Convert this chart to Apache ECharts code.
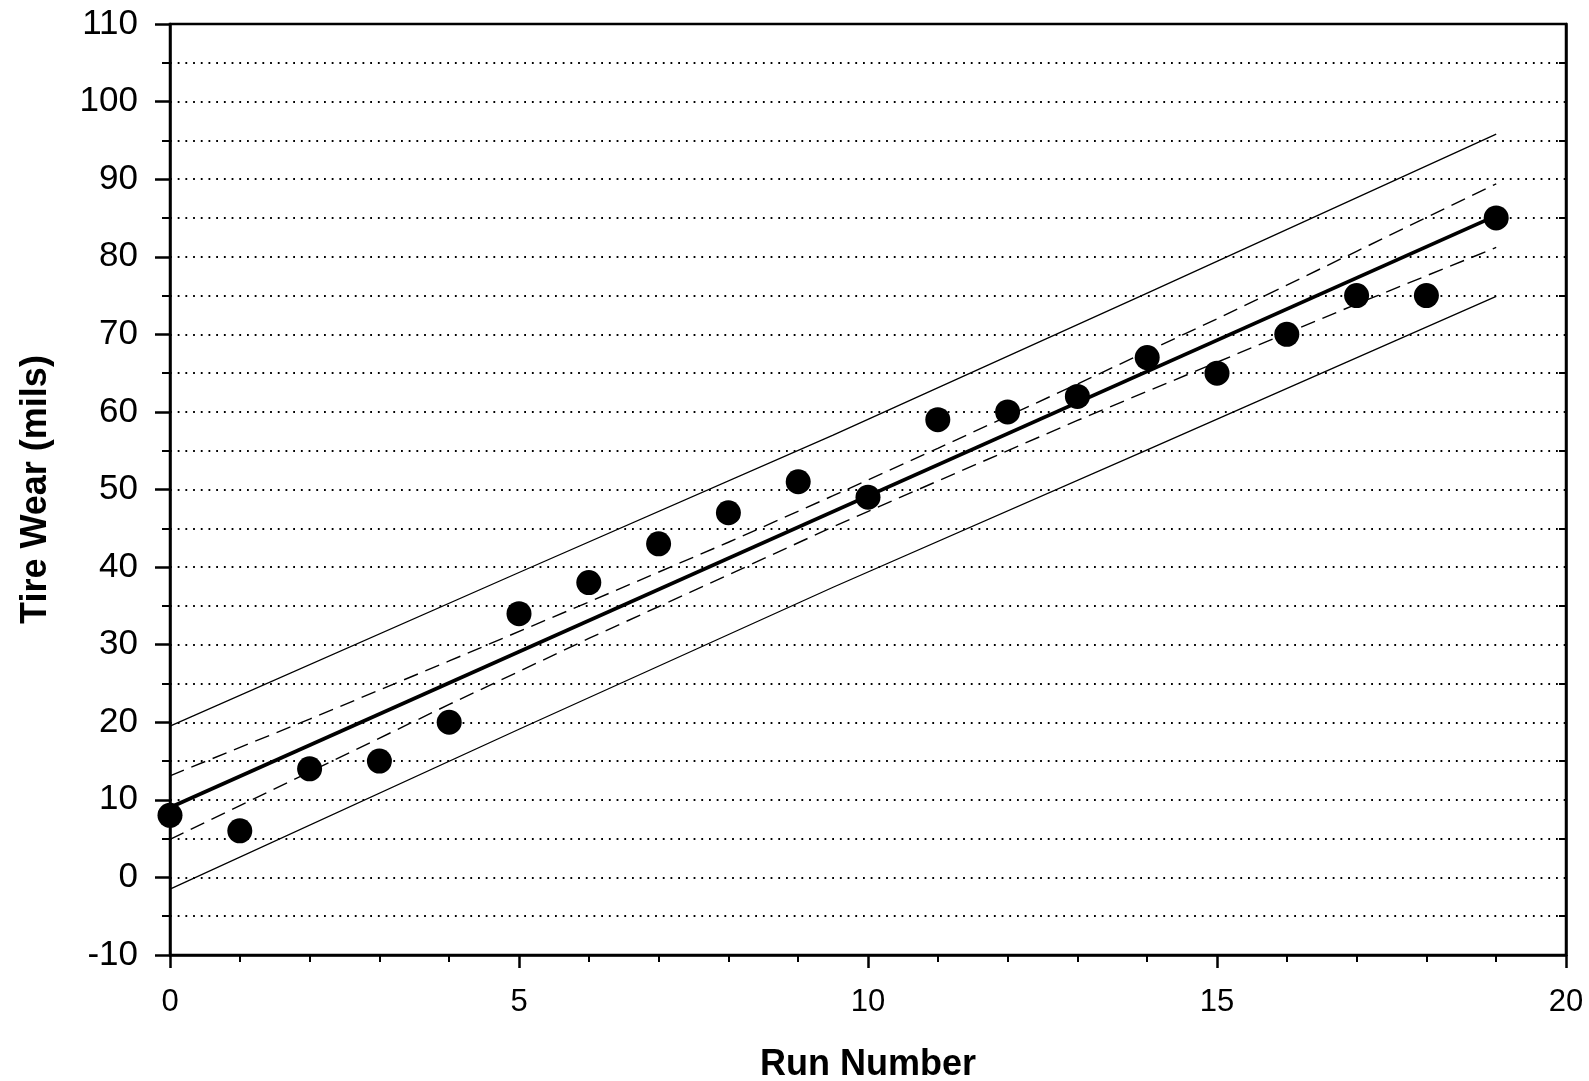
<!DOCTYPE html>
<html>
<head>
<meta charset="utf-8">
<script src="https://cdn.jsdelivr.net/npm/echarts@6/dist/echarts.min.js"></script>
<style>
  html, body { margin: 0; padding: 0; background: #fff; }
  #chart { width: 1589px; height: 1081px; }
</style>
</head>
<body>
<div id="chart"></div>
<script>
// Measured tire wear for each run
const runs = [0, 1, 2, 3, 4, 5, 6, 7, 8, 9, 10, 11, 12, 13, 14, 15, 16, 17, 18, 19];
const wear = [8, 6, 14, 15, 20, 34, 38, 43, 47, 51, 49, 59, 60, 62, 67, 65, 70, 75, 75, 85];

// Fitted line (end points)
const fitX = [0, 19];
const fitY = [9.0, 85.3];

// Confidence band (dashed), read at a few run numbers
const confX = [0, 2, 4, 6, 8, 9.5, 11, 13, 15, 17, 19];
const confUpper = [13.1, 20.4, 27.9, 35.5, 43.2, 49.2, 55.3, 63.6, 72.0, 80.7, 89.4];
const confLower = [4.9, 13.6, 22.3, 30.8, 39.0, 45.2, 51.1, 58.9, 66.4, 73.9, 81.2];

// Prediction band (thin solid)
const predX = [0, 5, 9.5, 14, 19];
const predUpper = [19.5, 39.3, 57.0, 75.3, 95.8];
const predLower = [-1.5, 19.1, 37.4, 55.1, 74.9];

const font = "'Liberation Sans', Arial, sans-serif";

// pairs two lists into [x, y] points
function pairs(xs, ys) {
    return xs.map((x, i) => [x, ys[i]]);
}

function lineSeries(xs, ys, style) {
    return {
        type: 'line',
        data: pairs(xs, ys),
        symbol: 'none',
        silent: true,
        lineStyle: style,
        z: 3
    };
}

const dotted = { color: '#000', width: 1.8, type: [1.8, 5.9] };

const chart = echarts.init(document.getElementById('chart'));

let options = {
    animation: false,
    backgroundColor: '#fff',
    grid: {
        left: 170, right: 23, top: 24, bottom: 126,
        containLabel: false,
        outerBoundsMode: 'none',
        show: true, borderColor: '#000', borderWidth: 2.5
    },
    xAxis: {
        type: 'value',
        min: 0, max: 20, interval: 5,
        name: 'Run Number',
        nameLocation: 'middle',
        nameGap: 92,
        nameTextStyle: { fontFamily: font, fontSize: 36, fontWeight: 'bold', color: '#000' },
        axisLine: { show: true, onZero: false, lineStyle: { color: '#000', width: 2.5 } },
        axisTick: { show: true, length: 13, lineStyle: { color: '#000', width: 2.5 } },
        minorTick: { show: true, splitNumber: 5, length: 7, lineStyle: { color: '#000', width: 2 } },
        axisLabel: { fontFamily: font, fontSize: 31, color: '#000', margin: 32 },
        splitLine: { show: false }
    },
    yAxis: [
        {
            type: 'value',
            min: -10, max: 110, interval: 10,
            name: 'Tire Wear (mils)',
            nameLocation: 'middle',
            nameGap: 116,
            nameTextStyle: { fontFamily: font, fontSize: 36, fontWeight: 'bold', color: '#000' },
            axisLine: { show: true, onZero: false, lineStyle: { color: '#000', width: 2.5 } },
            axisTick: { show: true, length: 15, lineStyle: { color: '#000', width: 2.5 } },
            minorTick: { show: true, splitNumber: 2, length: 8, lineStyle: { color: '#000', width: 2 } },
            axisLabel: { fontFamily: font, fontSize: 35, color: '#000', margin: 32 },
            splitLine: { show: true, lineStyle: dotted },
            minorSplitLine: { show: true, lineStyle: dotted }
        },
        {
            // right frame: only the half-way ticks, pointing inward
            type: 'value',
            position: 'right',
            min: -10, max: 110, interval: 10,
            axisLine: { show: true, onZero: false, lineStyle: { color: '#000', width: 2.5 } },
            axisTick: { show: false, inside: true },
            minorTick: { show: true, splitNumber: 2, length: 7, lineStyle: { color: '#000', width: 2 } },
            axisLabel: { show: false },
            splitLine: { show: false }
        }
    ],
    series: [
        lineSeries(predX, predUpper, { color: '#000', width: 1.3 }),
        lineSeries(predX, predLower, { color: '#000', width: 1.3 }),
        lineSeries(confX, confUpper, { color: '#000', width: 1.4, type: [15, 8] }),
        lineSeries(confX, confLower, { color: '#000', width: 1.4, type: [15, 8] }),
        lineSeries(fitX, fitY, { color: '#000', width: 3.8 }),
        {
            type: 'scatter',
            data: pairs(runs, wear),
            symbol: 'circle',
            symbolSize: 25,
            itemStyle: { color: '#000', opacity: 1 },
            z: 5
        }
    ]
};

chart.setOption(options);
</script>
</body>
</html>
